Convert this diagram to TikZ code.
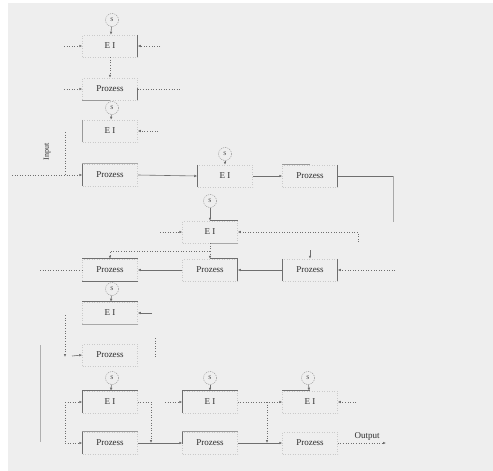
\documentclass[tikz,border=0pt]{standalone}
\usepackage{fontspec}
\setmainfont{Liberation Serif}
\usetikzlibrary{arrows.meta}
\definecolor{bg}{HTML}{EEEEEE}
\definecolor{ink}{HTML}{2E2E2E}
\definecolor{wire}{HTML}{6E6E6E}
\definecolor{faint}{HTML}{CACACA}
\tikzset{
  blk/.style={minimum width=55pt, minimum height=22pt, inner sep=0pt,
    draw=faint, dotted, line width=0.5pt, text=ink,
    font=\fontsize{9}{10}\selectfont},
  sig/.style={circle, draw=wire!80, dash pattern=on 1.2pt off 1pt,
    minimum size=13pt, inner sep=0pt, text=ink,
    font=\fontsize{5.5}{6}\selectfont},
  edge/.style={draw=wire, line width=0.8pt},
  flow/.style={draw=wire, line width=0.6pt, -{Latex[length=3pt,width=2.6pt]}},
  dflow/.style={draw=wire, line width=0.6pt, dotted, -{Latex[length=3pt,width=2.6pt]}},
  dline/.style={draw=wire, line width=0.6pt, dotted},
  lbl/.style={text=ink, font=\fontsize{9}{10}\selectfont, inner sep=0pt},
}
\begin{document}
\begin{tikzpicture}[x=1pt, y=-1pt]
\useasboundingbox (0,0) rectangle (493,471);
\fill[white] (0,0) rectangle (493,471);
\fill[bg] (8,3) rectangle (493,471);

% ---- blocks and sources
\node[sig] (s1) at (112,20) {S};
\node[blk] (e1) at (110,46) {E I};
\node[blk] (p1) at (110,89) {Prozess};
\node[sig] (s2) at (112,108) {S};
\node[blk] (e2) at (110,131) {E I};
\node[blk] (p2) at (110,175) {Prozess};
\node[sig] (s3) at (225,154) {S};
\node[blk] (e3) at (225,176) {E I};
\node[blk] (p3) at (310,176) {Prozess};
\node[sig] (s4) at (210,201) {S};
\node[blk] (e4) at (210,232) {E I};
\node[blk] (pa) at (110,270) {Prozess};
\node[blk] (pb) at (210,270) {Prozess};
\node[blk] (pc) at (310,270) {Prozess};
\node[sig] (s5) at (112,289) {S};
\node[blk] (e5) at (110,313) {E I};
\node[blk] (pd) at (110,355) {Prozess};
\node[sig] (s6) at (112,378) {S};
\node[sig] (s7) at (210,378) {S};
\node[sig] (s8) at (308,378) {S};
\node[blk] (e6) at (110,402) {E I};
\node[blk] (e7) at (210,402) {E I};
\node[blk] (e8) at (310,402) {E I};
\node[blk] (p6) at (110,443) {Prozess};
\node[blk] (p7) at (210,443) {Prozess};
\node[blk] (p8) at (310,443) {Prozess};
\node[lbl] (out) at (367,436) {Output};
\node[lbl, rotate=90, font=\fontsize{8}{9}\selectfont] (in) at (47,152) {Input};

% ---- solid block edges
\draw[edge] (e1.north east) -- (e1.south east);
\draw[edge, draw=wire!70] (p1.south west) -- ++(28,0);
\draw[edge] (p1.south east) -- ++(0,-12);
\draw[edge, draw=wire!70] (e2.north west) -- (e2.south west);
\draw[edge, draw=wire!60] (p2.north west) -- (p2.north east);
\draw[edge] (p2.north west) -- (p2.south west);
\draw[edge] (e3.north west) -- (e3.south west);
\draw[edge, draw=wire!70] (p3.north west) -- ++(28,0);
\draw[edge] (p3.north east) -- (p3.south east);
\draw[edge] (e4.north) -- (e4.north east);
\draw[edge, draw=wire!60] (e4.south) -- (e4.south east);
\draw[edge] (pa.north west) -- (pa.north east);
\draw[edge] (pa.south west) -- (pa.south east);
\draw[edge] (pb.north) -- (pb.north east);
\draw[edge] (pb.north east) -- (pb.south east);
\draw[edge] (pc.north west) -- (pc.south west);
\draw[edge] (pc.north east) -- (pc.south east);
\draw[edge] (e5.north west) -- (e5.north east);
\draw[edge, draw=wire!60] (e5.south west) -- (e5.south east);
\draw[edge] (e6.north west) -- (e6.north east);
\draw[edge] (e6.north west) -- (e6.south west);
\draw[edge, draw=wire!70] (p6.north west) -- (p6.north east);
\draw[edge] (p6.north west) -- (p6.south west);
\draw[edge] (e7.north west) -- (e7.north east);
\draw[edge] (e7.north west) -- (e7.south west);
\draw[edge, draw=wire!70] (p7.north west) -- (p7.north east);
\draw[edge] (p7.north west) -- ++(0,12);
\draw[edge] (e8.north west) -- ++(28,0);

% ---- free ends of connectors
\coordinate (a1) at (64,46);
\coordinate (b1) at (160,46);
\coordinate (a2) at (64,89);
\coordinate (b2) at (180,89);
\coordinate (b3) at (158,131);
\coordinate (c1) at (65,132);
\coordinate (c2) at (65,175);
\coordinate (i0) at (12,175);
\coordinate (r1) at (393,176);
\coordinate (r2) at (393,222);
\coordinate (d1) at (358,242);
\coordinate (d2) at (358,232);
\coordinate (a4) at (160,232);
\coordinate (m1) at (210,251);
\coordinate (m2) at (110,251);
\coordinate (m3) at (310,250);
\coordinate (b5) at (395,270);
\coordinate (a5) at (40,270);
\coordinate (b6) at (152,313);
\coordinate (c3) at (65,315);
\coordinate (c4) at (65,357);
\coordinate (a6) at (72,356);
\coordinate (v1) at (155,338);
\coordinate (v2) at (155,358);
\coordinate (g1) at (40,345);
\coordinate (g2) at (40,442);
\coordinate (c5) at (65,402);
\coordinate (c6) at (65,443);
\coordinate (f1) at (151,402);
\coordinate (f2) at (151,443);
\coordinate (a7) at (165,402);
\coordinate (f3) at (267,402);
\coordinate (f4) at (267,443);
\coordinate (b8) at (356,402);
\coordinate (o1) at (386,443);

% ---- connectors
\draw[flow] (s1) -- (e1);
\draw[dflow] (a1) -- (e1.west);
\draw[dflow] (b1) -- (e1.east);
\draw[dflow] (e1) -- (p1);
\draw[dflow] (a2) -- (p1.west);
\draw[dline] (p1.east) -- (b2);
\draw[flow] (s2) -- (e2);
\draw[dflow] (b3) -- (e2.east);
\draw[dline] (c1) -- (c2);
\draw[dflow] (i0) -- (p2.west);
\draw[flow] (p2.east) -- (e3.west);
\draw[flow] (s3) -- (e3);
\draw[flow] (e3) -- (p3);
\draw[edge] (p3.east) -- (r1);
\draw[edge, draw=wire!60] (r1) -- (r2);
\draw[flow] (s4) -- (e4);
\draw[dflow] (d1) -- (d2) -- (e4.east);
\draw[dflow] (a4) -- (e4.west);
\draw[dflow] (e4) -- (m1) -- (pb);
\draw[dflow] (m1) -- (m2) -- (pa);
\draw[flow] (pb.west) -- (pa.east);
\draw[flow] (pc.west) -- (pb.east);
\draw[flow] (m3) -- (pc.north);
\draw[dflow] (b5) -- (pc.east);
\draw[dline] (a5) -- (pa.west);
\draw[flow] (s5) -- (e5);
\draw[flow] (b6) -- (e5.east);
\draw[dflow] (c3) -- (c4);
\draw[flow] (a6) -- (pd.west);
\draw[dline] (v1) -- (v2);
\draw[edge, draw=wire!55] (g1) -- (g2);
\draw[flow] (s6) -- (e6);
\draw[flow] (s7) -- (e7);
\draw[flow] (s8) -- (e8);
\draw[dflow] (c5) -- (e6.west);
\draw[dline] (c5) -- (c6);
\draw[dflow] (c6) -- (p6.west);
\draw[dflow] (e6.east) -- (f1) -- (f2);
\draw[flow] (p6.east) -- (p7.west);
\draw[dflow] (a7) -- (e7.west);
\draw[dflow] (e7.east) -- (e8.west);
\draw[dflow] (f3) -- (f4);
\draw[flow] (p7.east) -- (p8.west);
\draw[dflow] (b8) -- (e8.east);
\draw[dflow] (p8.east) -- (o1);
\end{tikzpicture}
\end{document}
